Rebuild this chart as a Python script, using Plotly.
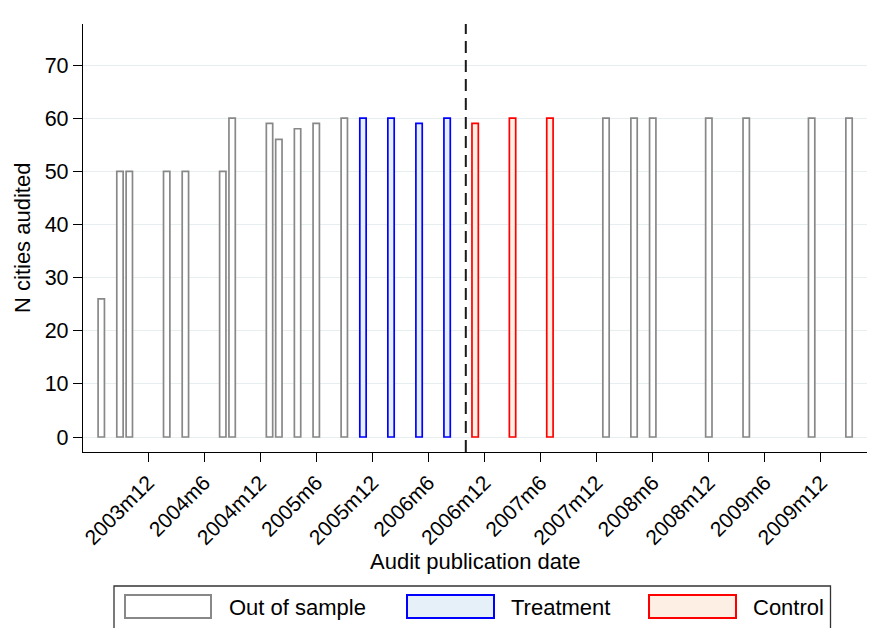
import plotly.graph_objects as go

# ---- data ----
dates = ["2003m7", "2003m9", "2003m10", "2004m2", "2004m4", "2004m8", "2004m9",
         "2005m1", "2005m2", "2005m4", "2005m6", "2005m9",
         "2005m11", "2006m2", "2006m5", "2006m8",
         "2006m11", "2007m3", "2007m7",
         "2008m1", "2008m4", "2008m6", "2008m12", "2009m4", "2009m11", "2010m3"]
n_cities = [26, 50, 50, 50, 50, 50, 60,
            59, 56, 58, 59, 60,
            60, 60, 59, 60,
            59, 60, 60,
            60, 60, 60, 60, 60, 60, 60]
groups = ["Out of sample"] * 12 + ["Treatment"] * 4 + ["Control"] * 3 + ["Out of sample"] * 7
tick_labels = ["2003m12", "2004m6", "2004m12", "2005m6", "2005m12", "2006m6", "2006m12",
               "2007m6", "2007m12", "2008m6", "2008m12", "2009m6", "2009m12"]
cutoff_date = "2006m10"
y_ticks = [0, 10, 20, 30, 40, 50, 60, 70]


def mi(s):
    y, m = s.split("m")
    return (int(y) - 1960) * 12 + int(m) - 1


styles = {
    "Out of sample": dict(fill="#ffffff", line="#888888"),
    "Treatment": dict(fill="#e6f0f8", line="#0000ff"),
    "Control": dict(fill="#fdefe3", line="#ff0000"),
}

FONT = "Liberation Sans, Arial, Helvetica, sans-serif"

fig = go.Figure()
for g in ["Out of sample", "Treatment", "Control"]:
    xs = [mi(d) for d, gg in zip(dates, groups) if gg == g]
    ys = [v for v, gg in zip(n_cities, groups) if gg == g]
    fig.add_trace(go.Bar(
        x=xs, y=ys, name=g, width=0.68,
        marker=dict(color=styles[g]["fill"], line=dict(color=styles[g]["line"], width=1.7)),
        showlegend=False,
    ))

# plot area geometry (px)
L, R, T, B = 83, 867, 24, 452
W, H = R - L, B - T
x0 = mi("2003m12")
px_per_month = 9.347
x_range = [x0 - (148 - L) / px_per_month, x0 + (R - 148) / px_per_month]
y_range = [-15 / 5.314, 70 + (65 - T) / 5.314]


def px_x(p):
    return (p - L) / W


def px_y(p):
    return (B - p) / H


fig.update_layout(
    width=872, height=628,
    margin=dict(l=L, r=872 - R, t=T, b=628 - B),
    paper_bgcolor="white", plot_bgcolor="white",
    font=dict(family=FONT, color="black", size=21),
    barmode="overlay",
    xaxis=dict(
        range=x_range, tickmode="array",
        tickvals=[mi(t) for t in tick_labels], ticktext=tick_labels,
        tickangle=-45, ticks="outside", ticklen=9, tickwidth=1.2, tickcolor="black",
        showline=True, linecolor="black", linewidth=1.3, showgrid=False, zeroline=False,
        tickfont=dict(size=21, family=FONT, color="black"),
    ),
    yaxis=dict(
        range=y_range, tickmode="array", tickvals=y_ticks,
        ticks="outside", ticklen=9, tickwidth=1.2, tickcolor="black",
        showline=True, linecolor="black", linewidth=1.3,
        showgrid=True, gridcolor="#e6eef0", gridwidth=1.2, zeroline=False,
        tickfont=dict(size=21.5, family=FONT, color="black"),
    ),
)

# vertical dashed cutoff line
fig.add_shape(type="line", xref="x", yref="paper",
              x0=mi(cutoff_date), x1=mi(cutoff_date), y0=0, y1=1,
              line=dict(color="#1a1a1a", width=2, dash="12px,7px"))

# axis titles
fig.add_annotation(xref="paper", yref="paper", x=0.5, y=px_y(561),
                   text="Audit publication date", showarrow=False,
                   xanchor="center", yanchor="middle", font=dict(size=22, family=FONT, color="black"))
fig.add_annotation(xref="paper", yref="paper", x=px_x(22), y=0.5,
                   text="N cities audited", showarrow=False, textangle=-90,
                   xanchor="center", yanchor="middle", font=dict(size=22, family=FONT, color="black"))

# legend box (drawn manually)
fig.add_shape(type="rect", xref="paper", yref="paper",
              x0=px_x(114), x1=px_x(830.5), y0=px_y(640), y1=px_y(586),
              line=dict(color="#333333", width=1.3), fillcolor="white", layer="above")
leg_items = [("Out of sample", 125, 211, 227), ("Treatment", 407, 494, 509), ("Control", 649, 736, 751)]
for name, sx0, sx1, tx in leg_items:
    fig.add_shape(type="rect", xref="paper", yref="paper",
                  x0=px_x(sx0), x1=px_x(sx1), y0=px_y(618), y1=px_y(595),
                  line=dict(color=styles[name]["line"], width=2), fillcolor=styles[name]["fill"],
                  layer="above")
    fig.add_annotation(xref="paper", yref="paper", x=px_x(tx), y=px_y(607),
                       text=name, showarrow=False, xanchor="left", yanchor="middle",
                       font=dict(size=22, family=FONT, color="black"))

fig.write_html("out.html")
